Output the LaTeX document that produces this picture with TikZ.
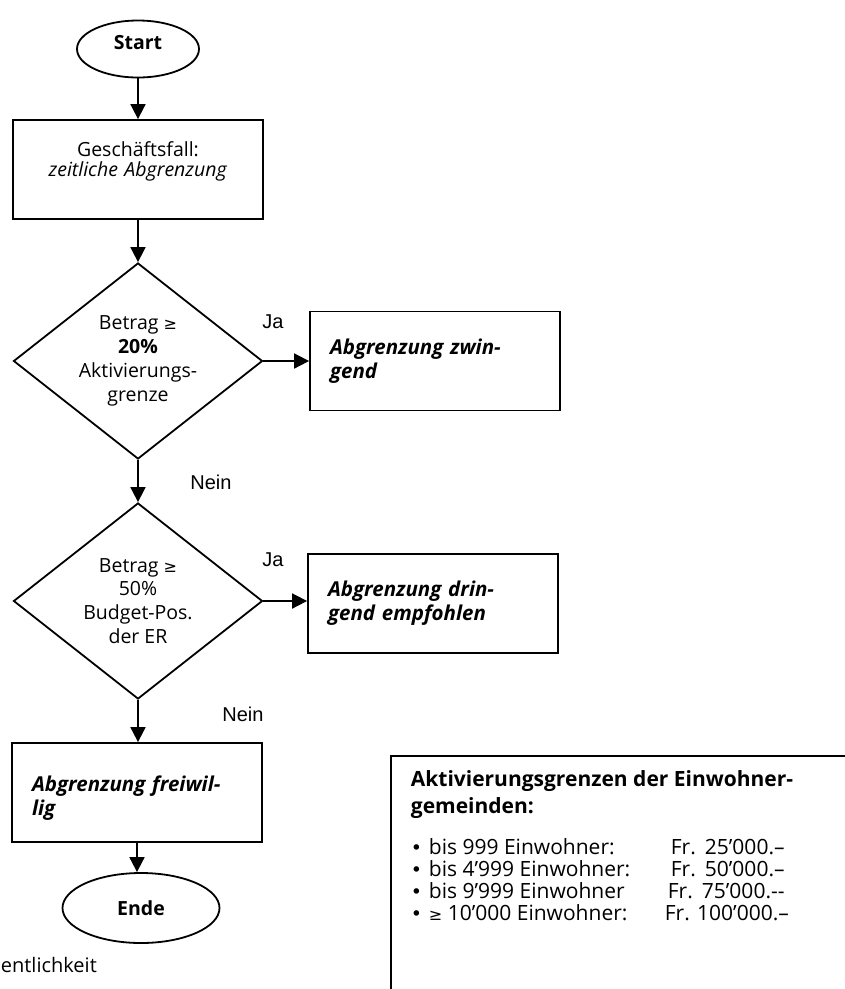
\documentclass[tikz,border=0pt]{standalone}
\usepackage{fontspec}
\setmainfont{Open Sans}
\newfontfamily\arialfont{Liberation Sans}
\newfontfamily\symfont{DejaVu Sans}
\usetikzlibrary{shapes.geometric,arrows.meta}
\newcommand{\blt}{\makebox[20pt][l]{\hspace{2pt}{\symfont\fontsize{19}{20}\selectfont •}}}
\begin{document}
\begin{tikzpicture}[x=1pt,y=-1pt,
  line width=1.8pt,
  txt/.style={font=\fontsize{20}{23.5}\selectfont, inner sep=0pt},
  term/.style={draw, ellipse, inner sep=0pt, font=\fontsize{19.5}{20}\selectfont\bfseries},
  procbox/.style={draw, rectangle, minimum width=250pt, minimum height=99pt, inner sep=0pt, text width=210pt, align=left, font=\fontsize{20.5}{24}\selectfont\bfseries\itshape},
  dia/.style={draw, diamond, aspect=1.27, minimum width=249pt, minimum height=196pt, inner sep=0pt, align=center, font=\fontsize{19.5}{23.8}\selectfont},
  flow/.style={-{Triangle[length=15pt,width=15pt]}, line width=1.8pt},
  yn/.style={font=\arialfont\fontsize{20}{22}\selectfont, inner sep=0pt},
  info/.style={font=\fontsize{21}{22}\selectfont, inner sep=0pt, anchor=base west},
  infotitle/.style={font=\fontsize{21}{22}\selectfont\bfseries, inner sep=0pt, anchor=base west}
]
\useasboundingbox (0,0) rectangle (845,989);
\clip (0,0) rectangle (845,989);

% flow nodes
\node[term, minimum width=122pt, minimum height=57pt] (start) at (138,49) {\raisebox{6pt}[\height][\depth]{Start}};
\node[procbox, align=center, font=\fontsize{19.5}{20.5}\selectfont] (b1) at (138,169.5) {Geschäftsfall:\\ \textit{zeitliche Abgrenzung}\\ \mbox{}};
\node[dia] (d1) at (138,361) {Betrag {\symfont\fontsize{16}{20}\selectfont ≥}\\ \textbf{20\%}\\ Aktivierungs-\\ grenze};
\node[procbox] (b2) at (435,361) {Abgrenzung zwin-\\ gend};
\node[dia] (d2) at (138,601) {Betrag {\symfont\fontsize{16}{20}\selectfont ≥}\\ 50\%\\ Budget-Pos.\\ der ER};
\node[procbox] (b3) at (433,603.5) {Abgrenzung drin-\\ gend empfohlen};
\node[procbox] (b4) at (137,792.5) {\raisebox{-6pt}[\height][\depth]{Abgrenzung freiwil-}\\ \raisebox{-6pt}[\height][\depth]{lig}};
\node[term, minimum width=157pt, minimum height=70pt] (ende) at (141,908) {Ende};

% labels
\node[yn] (ja1) at (273,322) {Ja};
\node[yn] (nein1) at (211,482) {Nein};
\node[yn] (ja2) at (273,560) {Ja};
\node[yn] (nein2) at (243,714) {Nein};

% connectors
\draw[flow] (start) -- (b1);
\draw[flow] (b1) -- (d1);
\draw[flow] (d1.east) -- (b2.west);
\draw[flow] (d1) -- (d2);
\draw[flow] (d2.east) -- (d2.east -| b3.west);
\draw[flow] (d2) -- (d2.south |- b4.north);
\draw[flow] (b4.south) -- (b4.south |- ende.north);

% cut text
\node[txt, anchor=base west] (cut) at (0,972) {entlichkeit};

% info box
\node[draw, rectangle, anchor=north west, minimum width=480pt, minimum height=260pt, inner sep=0pt] (infobox) at (390,755) {};
\node[infotitle] (t1) at (410,786) {Aktivierungsgrenzen der Einwohner-};
\node[infotitle] (t2) at (410,813) {gemeinden:};
\node[info] (l1) at (408,854) {\blt bis 999 Einwohner:};
\node[info] (l2) at (408,876) {\blt bis 4'999 Einwohner:};
\node[info] (l3) at (408,898) {\blt bis 9’999 Einwohner};
\node[info] (l4) at (408,920) {\blt{\symfont\fontsize{16}{20}\selectfont ≥} 10’000 Einwohner:};
\node[info] (a1) at (670,854) {Fr.\hspace{9pt}25’000.–};
\node[info] (a2) at (670,876) {Fr.\hspace{9pt}50'000.–};
\node[info] (a3) at (667,898) {Fr.\hspace{9pt}75'000.-{}-};
\node[info] (a4) at (664,920) {Fr. 100'000.–};
\end{tikzpicture}
\end{document}
